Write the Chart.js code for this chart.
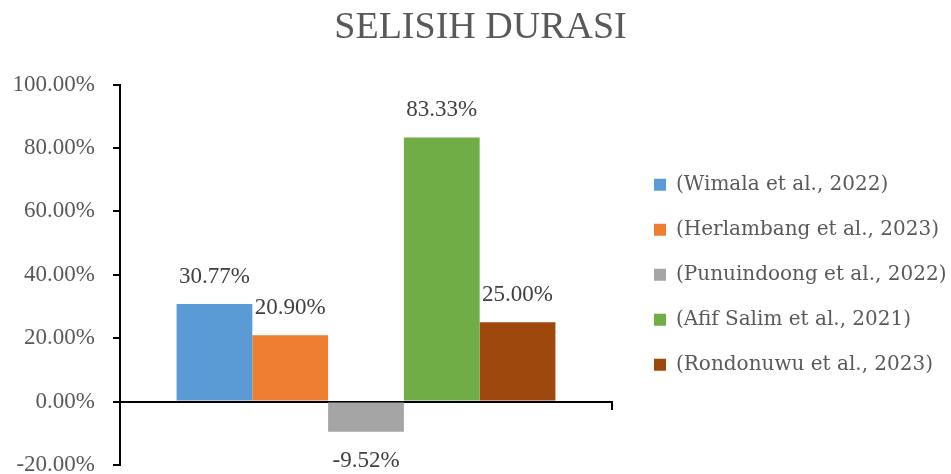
<!DOCTYPE html>
<html><head><meta charset="utf-8">
<script src="https://cdn.jsdelivr.net/npm/chart.js@4"></script>
<style>html,body{margin:0;padding:0;background:#fff}#wrap{width:951px;height:474px;position:relative}</style>
</head><body><div id="wrap"><canvas id="c"></canvas></div>
<script>
const chartTitle = 'SELISIH DURASI';
const categories = [''];
const seriesNames = ['(Wimala et al., 2022)', '(Herlambang et al., 2023)', '(Punuindoong et al., 2022)', '(Afif Salim et al., 2021)', '(Rondonuwu et al., 2023)'];
const seriesValues = [30.77, 20.90, -9.52, 83.33, 25.00];
const seriesColors = ['#5B9BD5', '#ED7D31', '#A5A5A5', '#70AD47', '#9E480E'];
const yMin = -20, yMax = 100, yStep = 20;

const textColor = '#595959';

const valueLabels = {
  id: 'valueLabels',
  afterDatasetsDraw(chart) {
    const ctx = chart.ctx;
    ctx.save();
    ctx.font = '23px "Liberation Serif"';
    ctx.fillStyle = '#404040';
    ctx.textAlign = 'center';
    ctx.textBaseline = 'middle';
    chart.data.datasets.forEach((ds, i) => {
      const meta = chart.getDatasetMeta(i);
      meta.data.forEach((bar, j) => {
        const v = ds.data[j];
        const y = v >= 0 ? bar.y - 27 : bar.y + 29;
        ctx.fillText(v.toFixed(2) + '%', bar.x, y);
      });
    });
    ctx.restore();
  }
};

new Chart(document.getElementById('c'), {
  type: 'bar',
  data: {
    labels: categories,
    datasets: seriesNames.map((n, i) => ({
      label: n,
      data: [seriesValues[i]],
      backgroundColor: seriesColors[i],
      borderWidth: 0,
      categoryPercentage: 0.77,
      barPercentage: 1
    }))
  },
  options: {
    responsive: true,
    maintainAspectRatio: false,
    animation: false,
    devicePixelRatio: 1,
    layout: { padding: { left: 10, right: 0, top: 0, bottom: 9 } },
    plugins: {
      title: {
        display: true,
        text: chartTitle,
        color: textColor,
        font: { family: '"Liberation Serif"', size: 38, weight: 'normal' },
        padding: { top: 5, bottom: 34 }
      },
      legend: {
        position: 'right',
        fullSize: false,
        maxWidth: 322,
        labels: {
          color: textColor,
          font: { family: '"DejaVu Serif"', size: 20 },
          boxWidth: 12,
          boxHeight: 12,
          padding: 25
        }
      },
      tooltip: { enabled: false }
    },
    scales: {
      x: {
        position: { y: 0 },
        afterFit(s) { s.height = 0; },
        grid: { drawOnChartArea: false, drawTicks: true, tickLength: 7, color: '#000', lineWidth: 2 },
        border: { display: true, color: '#000', width: 2 },
        ticks: { display: false }
      },
      y: {
        min: yMin,
        max: yMax,
        afterFit(s) { s.width = 110; s.paddingTop = 9; s.paddingBottom = 9; },
        ticks: {
          stepSize: yStep,
          padding: 18,
          color: textColor,
          font: { family: '"Liberation Serif"', size: 23, lineHeight: 0.8 },
          callback: v => v.toFixed(2) + '%'
        },
        grid: { drawOnChartArea: false, drawTicks: true, tickLength: 7, color: '#000', lineWidth: 2 },
        border: { display: true, color: '#000', width: 2 }
      },
      y2: {
        position: 'right',
        display: true,
        afterFit(s) { s.width = 17; },
        grid: { display: false },
        border: { display: false },
        ticks: { display: false }
      }
    }
  },
  plugins: [valueLabels]
});
</script></body></html>
